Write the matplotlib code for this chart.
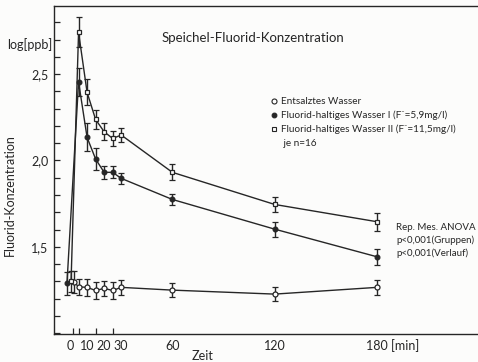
import matplotlib
matplotlib.use("Agg")
import matplotlib.pyplot as plt
from matplotlib.lines import Line2D
from matplotlib.ticker import FixedLocator, MultipleLocator, FuncFormatter

plt.rcParams['font.family'] = ['Lato', 'DejaVu Sans']

INK = '#262626'

# Measurement times [min]; baseline (0) plus the post-drinking samples
times = [0, 5, 10, 15, 20, 25, 30, 60, 120, 180]
# small horizontal dodge for the three baseline values at t = 0
baseline_dodge = {'circle': 2.3, 'filled': -1.8, 'square': 0.6}

# log(ppb) means and error bars per group
entsalzt = [1.297, 1.268, 1.265, 1.247, 1.259, 1.247, 1.265, 1.249, 1.226, 1.265]
entsalzt_err = [0.065, 0.048, 0.048, 0.048, 0.045, 0.048, 0.042, 0.042, 0.040, 0.043]

wasser_1 = [1.288, 2.455, 2.133, 2.008, 1.931, 1.931, 1.896, 1.774, 1.602, 1.442]
wasser_1_err = [0.068, 0.080, 0.081, 0.062, 0.039, 0.035, 0.030, 0.034, 0.043, 0.048]

wasser_2 = [1.300, 2.741, 2.394, 2.237, 2.166, 2.127, 2.147, 1.931, 1.745, 1.645]
wasser_2_err = [0.060, 0.087, 0.075, 0.056, 0.050, 0.041, 0.039, 0.046, 0.045, 0.052]

x_ticks = [0, 10, 20, 30, 60, 120, 180]
x_ticklabels = ['0', '10', '20', '30', '60', '120', '180 [min]']
x_minor = [0, 2, 5, 10, 15, 20, 25, 30]
y_ticks = [1.5, 2.0, 2.5]

legend_labels = ['Entsalztes Wasser',
                 'Fluorid-haltiges Wasser I (F\u207b=5,9mg/l)',
                 'Fluorid-haltiges Wasser II (F\u207b=11,5mg/l)',
                 ' je n=16']
stats_lines = ['Rep. Mes. ANOVA', 'p<0,001(Gruppen)', 'p<0,001(Verlauf)']

W, H = 478, 362
fig = plt.figure(figsize=(W / 100, H / 100), dpi=100, facecolor='#fcfcfb')
ax = fig.add_axes([54 / W, (H - 334) / H, 1.0 - 54 / W, (334 - 6) / H])
ax.set_facecolor('#fcfcfb')


def series_x(key):
    return [t + (baseline_dodge[key] if t == 0 else 0) for t in times]


styles = {
    'circle': dict(marker='o', mfc='white', ms=3.6),
    'filled': dict(marker='o', mfc=INK, ms=3.4),
    'square': dict(marker='s', mfc='white', ms=3.4),
}
for key, ys, err in [('circle', entsalzt, entsalzt_err),
                     ('filled', wasser_1, wasser_1_err),
                     ('square', wasser_2, wasser_2_err)]:
    ax.errorbar(series_x(key), ys, yerr=err, color=INK, lw=1.0,
                elinewidth=1.0, capsize=2.3, capthick=1.0,
                mec=INK, mew=0.9, **styles[key])

ax.set_xlim(-9.4, 239.2)
ax.set_ylim(0.995, 2.894)

ax.spines['right'].set_visible(False)
for s in ['left', 'top', 'bottom']:
    ax.spines[s].set_color(INK)
    ax.spines[s].set_linewidth(1.0)

ax.xaxis.set_major_locator(FixedLocator(x_ticks))
ax.set_xticklabels(x_ticklabels)
ax.xaxis.set_minor_locator(FixedLocator(x_minor))
ax.tick_params(axis='x', which='major', length=0, pad=4, labelsize=9, colors=INK)
ax.tick_params(axis='x', which='minor', direction='in', length=4, width=0.9, color=INK)
# keep "180" centred over its tick while the unit runs to the right
for lbl in ax.get_xticklabels():
    if lbl.get_text().startswith('180'):
        lbl.set_horizontalalignment('left')
        lbl.set_transform(lbl.get_transform() + matplotlib.transforms.ScaledTranslation(-8 / 72, 0, fig.dpi_scale_trans))

ax.yaxis.set_major_locator(FixedLocator(y_ticks))
ax.yaxis.set_minor_locator(MultipleLocator(0.1))
ax.yaxis.set_major_formatter(FuncFormatter(lambda v, p: f'{v:.1f}'.replace('.', ',')))
ax.tick_params(axis='y', which='both', direction='in', length=4, width=0.9,
               color=INK, labelsize=9, labelcolor=INK, pad=4)

fig.text(7 / W, 1 - 45 / H, 'log[ppb]', fontsize=9, color=INK, va='center', ha='left')
fig.text(10 / W, 1 - 195 / H, 'Fluorid-Konzentration', rotation=90, fontsize=9,
         color=INK, va='center', ha='center')
fig.text(203 / W, 1 - 356 / H, 'Zeit', fontsize=9, color=INK, va='center', ha='center')
fig.text(253 / W, 1 - 38 / H, 'Speichel-Fluorid-Konzentration', fontsize=9.5,
         color=INK, va='center', ha='center')

handles = [Line2D([], [], ls='none', color=INK, mec=INK, mew=0.8, **styles['circle']),
           Line2D([], [], ls='none', color=INK, mec=INK, mew=0.8, **styles['filled']),
           Line2D([], [], ls='none', color=INK, mec=INK, mew=0.8, **styles['square']),
           Line2D([], [], ls='none')]
leg = fig.legend(handles, legend_labels, loc='upper left',
                 bbox_to_anchor=(271 / W, 1 - 97 / H), frameon=False,
                 fontsize=7.2, handlelength=0.6, handletextpad=0.4,
                 labelspacing=0.45, borderpad=0, borderaxespad=0)
for t in leg.get_texts():
    t.set_color(INK)

for i, line in enumerate(stats_lines):
    fig.text(396 / W, 1 - (227 + 13 * i) / H, line, fontsize=7, color=INK,
             va='center', ha='left')

fig.savefig('out.png', dpi=100, facecolor=fig.get_facecolor())
